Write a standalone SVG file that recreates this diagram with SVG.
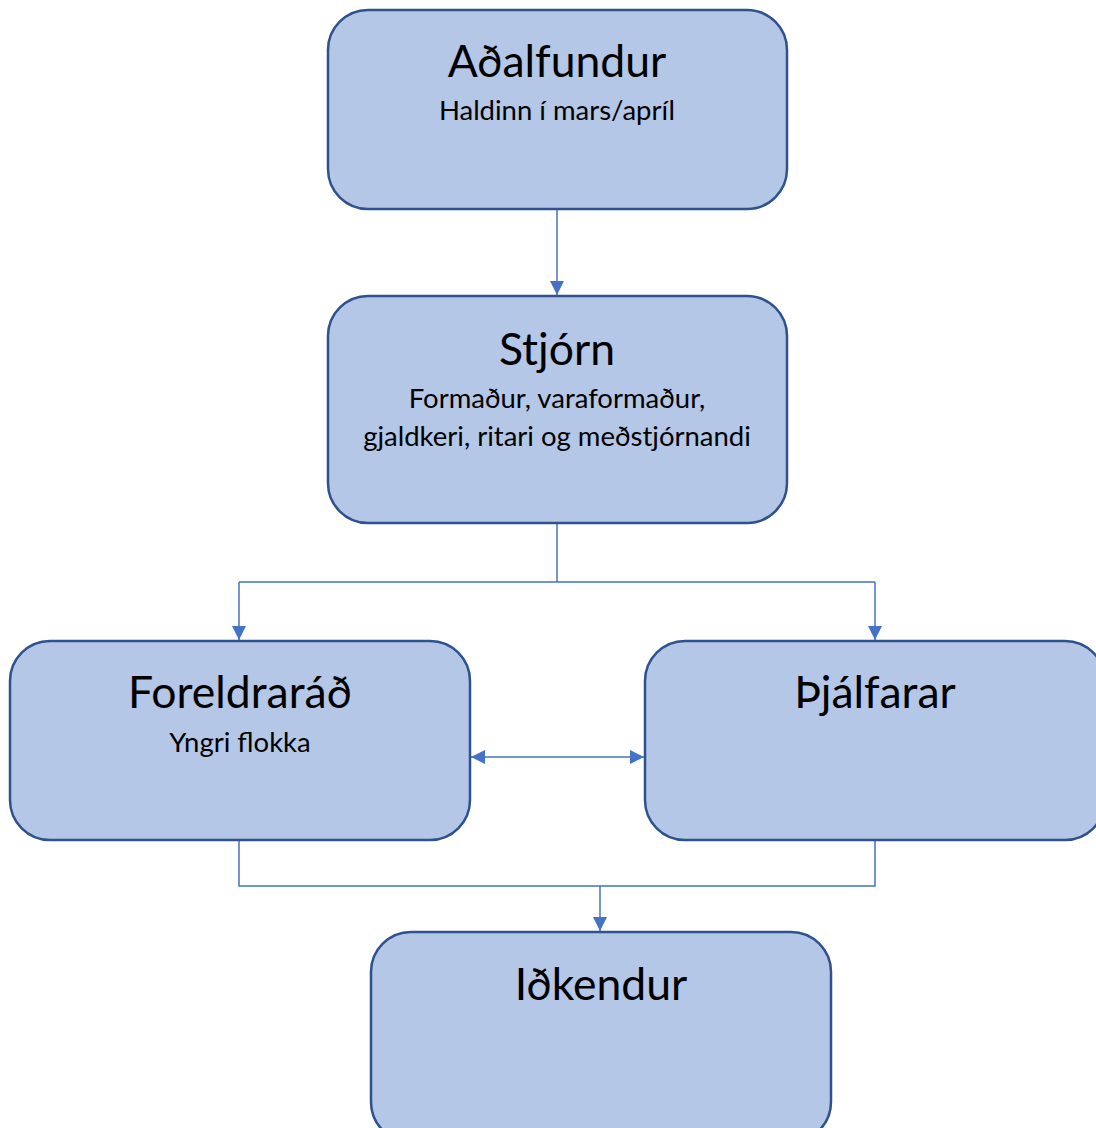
<svg xmlns="http://www.w3.org/2000/svg" width="1096" height="1128" viewBox="0 0 1096 1128">
<style>
.box{fill:#B4C7E7;stroke:#2F528F;stroke-width:2.5}
.t{font-family:Lato,"Open Sans",sans-serif;font-size:44.5px;fill:#000;text-anchor:middle}
.s{font-family:Lato,"Open Sans",sans-serif;font-size:27.5px;fill:#000;text-anchor:middle}
.c{fill:none;stroke:#4472C4;stroke-width:1.5}
</style>
<defs>
<marker id="ah2" viewBox="0 0 14 14" refX="14" refY="7" markerWidth="14" markerHeight="14" markerUnits="userSpaceOnUse" orient="auto-start-reverse">
<path d="M0,0 L14,7 L0,14 z" fill="#4472C4"/>
</marker>
</defs>
<g id="connectors">
<path class="c" d="M557,209 V295" marker-end="url(#ah2)"/>
<path class="c" d="M557,523 V582 M239,582 H875"/>
<path class="c" d="M239,582 V640" marker-end="url(#ah2)"/>
<path class="c" d="M875,582 V640" marker-end="url(#ah2)"/>
<path class="c" d="M471,757 H644" marker-start="url(#ah2)" marker-end="url(#ah2)"/>
<path class="c" d="M239,840 V886 H875 V840"/>
<path class="c" d="M600,886 V931" marker-end="url(#ah2)"/>
</g>
<g id="adalfundur">
<rect class="box" x="328" y="10" width="459" height="199" rx="40"/>
<text class="t" x="557" y="77">Aðalfundur</text>
<text class="s" x="557" y="120">Haldinn í mars/apríl</text>
</g>
<g id="stjorn">
<rect class="box" x="328" y="296" width="459" height="227" rx="40"/>
<text class="t" x="557" y="365">Stjórn</text>
<text class="s" x="557" y="408">Formaður, varaformaður,</text>
<text class="s" x="557" y="446">gjaldkeri, ritari og meðstjórnandi</text>
</g>
<g id="foreldrarad">
<rect class="box" x="10" y="641" width="460" height="199" rx="40"/>
<text class="t" x="240" y="708">Foreldraráð</text>
<text class="s" x="240" y="752">Yngri flokka</text>
</g>
<g id="thjalfarar">
<rect class="box" x="645" y="641" width="460" height="199" rx="40"/>
<text class="t" x="875" y="708">Þjálfarar</text>
</g>
<g id="idkendur">
<rect class="box" x="371" y="932" width="460" height="210" rx="40"/>
<text class="t" x="601" y="1000">Iðkendur</text>
</g>
</svg>
